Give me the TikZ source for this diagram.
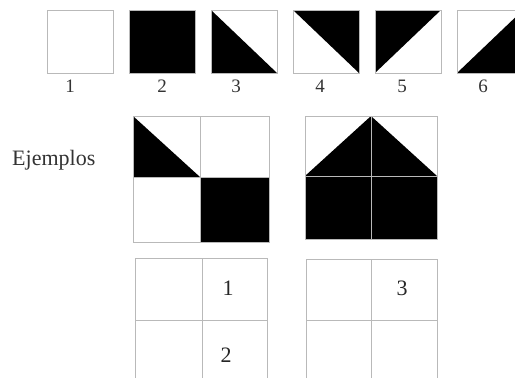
\documentclass[tikz,border=0pt]{standalone}
\usepackage{fontspec}
\setmainfont{Liberation Serif}
\begin{document}
\begin{tikzpicture}[x=1pt,y=-1pt,
  cell/.style={draw=gray!55,line width=0.9pt},
  blk/.style={fill=black},
  lbl/.style={font=\fontsize{19}{19}\selectfont,text=black!80},
  glbl/.style={font=\fontsize{22}{22}\selectfont,text=black!85}]
\useasboundingbox (0,0) rectangle (515,378);
\begin{scope}
\clip (0,0) rectangle (515,378);
% top row tiles
% 1
\draw[cell] (47,10) rectangle (113,73);
% 2
\fill[blk] (129,10) rectangle (195,73);
\draw[cell] (129,10) rectangle (195,73);
% 3
\fill[blk] (211,10) -- (211,73) -- (277,73) -- cycle;
\draw[cell] (211,10) rectangle (277,73);
% 4
\fill[blk] (293,10) -- (359,10) -- (359,73) -- cycle;
\draw[cell] (293,10) rectangle (359,73);
% 5
\fill[blk] (375,10) -- (441,10) -- (375,73) -- cycle;
\draw[cell] (375,10) rectangle (441,73);
% 6
\fill[blk] (457,73) -- (523,73) -- (523,10) -- cycle;
\draw[cell] (457,10) rectangle (523,73);
% example 1
\fill[blk] (133,116) -- (200,177) -- (133,177) -- cycle;
\fill[blk] (200,177) rectangle (269,242);
\draw[cell] (133,116) rectangle (269,242);
\draw[cell] (200,116) -- (200,242) (133,177) -- (269,177);
% example 2
\fill[blk] (305,176) -- (371,116) -- (437,176) -- (437,239) -- (305,239) -- cycle;
\draw[cell] (305,116) rectangle (437,239);
\draw[cell] (371,116) -- (371,239) (305,176) -- (437,176);
% bottom grids
\draw[cell] (135,258) rectangle (267,400);
\draw[cell] (202,258) -- (202,400) (135,320) -- (267,320);
\draw[cell] (306,259) rectangle (437,400);
\draw[cell] (371,259) -- (371,400) (306,320) -- (437,320);
\end{scope}
% labels
\node[lbl] (l1) at (70,86) {1};
\node[lbl] (l2) at (162,86) {2};
\node[lbl] (l3) at (236,86) {3};
\node[lbl] (l4) at (320,86) {4};
\node[lbl] (l5) at (402,86) {5};
\node[lbl] (l6) at (483,86) {6};
\node[font=\fontsize{22}{22}\selectfont,text=black!80,anchor=west,inner sep=0pt] (ej) at (12,160) {Ejemplos};
\node[glbl] (g1) at (228,288) {1};
\node[glbl] (g2) at (226,355) {2};
\node[glbl] (g3) at (402,288) {3};
\end{tikzpicture}
\end{document}
